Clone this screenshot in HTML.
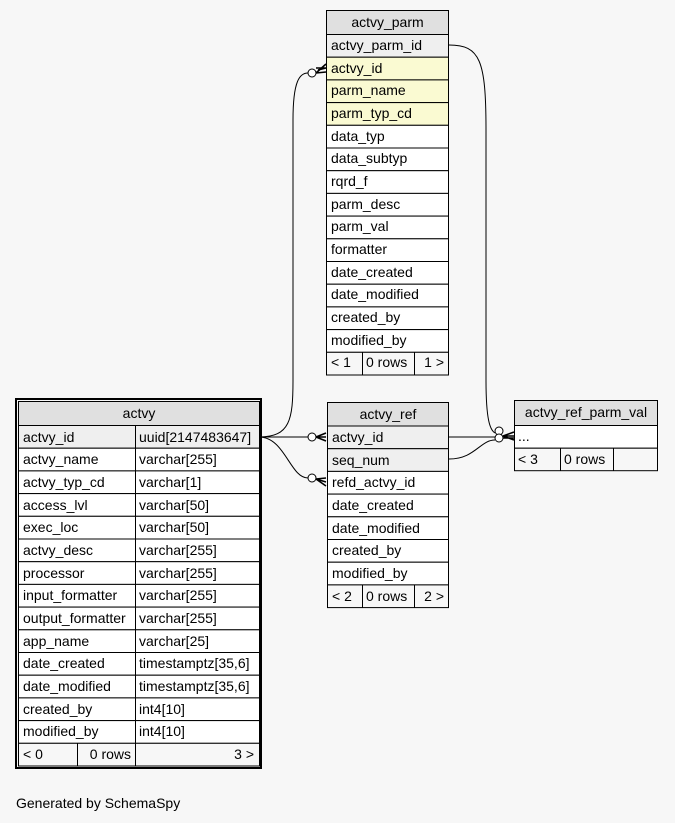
<!DOCTYPE html>
<html><head><meta charset="utf-8"><style>
html,body{margin:0;padding:0;background:#f7f7f7;}
svg{display:block;font-family:"Liberation Sans",Arial,sans-serif;font-size:14px;}
</style></head><body>
<svg width="675" height="823" viewBox="0 0 675 823" xmlns="http://www.w3.org/2000/svg">
<rect width="675" height="823" fill="#f7f7f7"/>
<g stroke="#000" stroke-width="1" fill="none">
<path d="M259,437 C290,437 293,420 293,380 L293,120 C293,80 300,73 308,73"/>
<path d="M259,437 L308,437"/>
<path d="M259,437 C285,437 290,478 308,478"/>
<path d="M449,45 C480,45 486,60 486,130 L486,380 C486,420 490,430 495,433"/>
<path d="M449,437 L495,437"/>
<path d="M449,459 C475,459 480,440 495,440"/>
</g>
<g stroke="#000" stroke-width="1" fill="#fff">
<circle cx="312" cy="73" r="4"/>
<circle cx="312" cy="437" r="4"/>
<circle cx="312" cy="478" r="4"/>
<circle cx="499" cy="431" r="4"/>
<circle cx="499" cy="438" r="4"/>
</g>
<g stroke="#000" stroke-width="1.6" fill="none">
<path d="M316,68 L326,68 M316,73 L326,64 M316,73 L326,72 M318,70 L326,68"/>
<path d="M316,437 L326,437 M316,437 L326,433 M316,437 L326,441"/>
<path d="M316,479 L326,482 M316,479 L326,478 M316,479 L326,486"/>
<path d="M503,436 L514,436 M503,436 L514,432 M503,436 L514,440 M503,438 L514,438"/>
</g>

<g stroke="#000" stroke-width="1">
<rect x="326.5" y="10.5" width="122" height="24" fill="#e0e0e0"/>
<rect x="326.5" y="34.5" width="122" height="22.7" fill="#efefef"/>
<rect x="326.5" y="57.2" width="122" height="22.7" fill="#fafad2"/>
<rect x="326.5" y="79.9" width="122" height="22.7" fill="#fafad2"/>
<rect x="326.5" y="102.6" width="122" height="22.7" fill="#fafad2"/>
<rect x="326.5" y="125.3" width="122" height="22.7" fill="#fff"/>
<rect x="326.5" y="148" width="122" height="22.7" fill="#fff"/>
<rect x="326.5" y="170.7" width="122" height="22.7" fill="#fff"/>
<rect x="326.5" y="193.4" width="122" height="22.7" fill="#fff"/>
<rect x="326.5" y="216.1" width="122" height="22.7" fill="#fff"/>
<rect x="326.5" y="238.8" width="122" height="22.7" fill="#fff"/>
<rect x="326.5" y="261.5" width="122" height="22.7" fill="#fff"/>
<rect x="326.5" y="284.2" width="122" height="22.7" fill="#fff"/>
<rect x="326.5" y="306.9" width="122" height="22.7" fill="#fff"/>
<rect x="326.5" y="329.6" width="122" height="22.7" fill="#fff"/>
<rect x="326.5" y="352.3" width="122" height="22.7" fill="#f7f7f7"/>
<line x1="362.5" y1="352.3" x2="362.5" y2="375"/>
<line x1="414.5" y1="352.3" x2="414.5" y2="375"/>
</g>
<g fill="#000">
<text x="387.5" y="27" text-anchor="middle">actvy_parm</text>
<text x="331" y="50">actvy_parm_id</text>
<text x="331" y="73">actvy_id</text>
<text x="331" y="95">parm_name</text>
<text x="331" y="118">parm_typ_cd</text>
<text x="331" y="141">data_typ</text>
<text x="331" y="163">data_subtyp</text>
<text x="331" y="186">rqrd_f</text>
<text x="331" y="209">parm_desc</text>
<text x="331" y="231">parm_val</text>
<text x="331" y="254">formatter</text>
<text x="331" y="277">date_created</text>
<text x="331" y="299">date_modified</text>
<text x="331" y="322">created_by</text>
<text x="331" y="345">modified_by</text>
<text x="331" y="367">&lt; 1</text>
<text x="366" y="367">0 rows</text>
<text x="444" y="367" text-anchor="end">1 &gt;</text>
</g>

<g stroke="#000">
<rect x="16" y="399" width="245" height="369" fill="none" stroke-width="2"/>
<g stroke-width="1">
<rect x="18.5" y="401.5" width="241" height="24" fill="#e0e0e0"/>
<rect x="18.5" y="425.5" width="241" height="22.7" fill="#efefef"/>
<rect x="18.5" y="448.2" width="241" height="22.7" fill="#fff"/>
<rect x="18.5" y="470.9" width="241" height="22.7" fill="#fff"/>
<rect x="18.5" y="493.6" width="241" height="22.7" fill="#fff"/>
<rect x="18.5" y="516.3" width="241" height="22.7" fill="#fff"/>
<rect x="18.5" y="539" width="241" height="22.7" fill="#fff"/>
<rect x="18.5" y="561.7" width="241" height="22.7" fill="#fff"/>
<rect x="18.5" y="584.4" width="241" height="22.7" fill="#fff"/>
<rect x="18.5" y="607.1" width="241" height="22.7" fill="#fff"/>
<rect x="18.5" y="629.8" width="241" height="22.7" fill="#fff"/>
<rect x="18.5" y="652.5" width="241" height="22.7" fill="#fff"/>
<rect x="18.5" y="675.2" width="241" height="22.7" fill="#fff"/>
<rect x="18.5" y="697.9" width="241" height="22.7" fill="#fff"/>
<rect x="18.5" y="720.6" width="241" height="22.7" fill="#fff"/>
<rect x="18.5" y="743.3" width="241" height="22.7" fill="#f7f7f7"/>
<line x1="135.5" y1="425.5" x2="135.5" y2="766"/>
<line x1="77.5" y1="743.3" x2="77.5" y2="766"/>
</g></g>
<g fill="#000">
<text x="139" y="418" text-anchor="middle">actvy</text>
<text x="23" y="442">actvy_id</text><text x="139" y="442">uuid[2147483647]</text>
<text x="23" y="464">actvy_name</text><text x="139" y="464">varchar[255]</text>
<text x="23" y="487">actvy_typ_cd</text><text x="139" y="487">varchar[1]</text>
<text x="23" y="510">access_lvl</text><text x="139" y="510">varchar[50]</text>
<text x="23" y="532">exec_loc</text><text x="139" y="532">varchar[50]</text>
<text x="23" y="555">actvy_desc</text><text x="139" y="555">varchar[255]</text>
<text x="23" y="578">processor</text><text x="139" y="578">varchar[255]</text>
<text x="23" y="600">input_formatter</text><text x="139" y="600">varchar[255]</text>
<text x="23" y="623">output_formatter</text><text x="139" y="623">varchar[255]</text>
<text x="23" y="646">app_name</text><text x="139" y="646">varchar[25]</text>
<text x="23" y="668">date_created</text><text x="139" y="668">timestamptz[35,6]</text>
<text x="23" y="691">date_modified</text><text x="139" y="691">timestamptz[35,6]</text>
<text x="23" y="714">created_by</text><text x="139" y="714">int4[10]</text>
<text x="23" y="736">modified_by</text><text x="139" y="736">int4[10]</text>
<text x="23" y="759">&lt; 0</text>
<text x="131" y="759" text-anchor="end">0 rows</text>
<text x="254" y="759" text-anchor="end">3 &gt;</text>
</g>

<g stroke="#000" stroke-width="1">
<rect x="327.5" y="402.5" width="121" height="23.5" fill="#e0e0e0"/>
<rect x="327.5" y="426" width="121" height="22.7" fill="#efefef"/>
<rect x="327.5" y="448.7" width="121" height="22.7" fill="#efefef"/>
<rect x="327.5" y="471.4" width="121" height="22.7" fill="#fff"/>
<rect x="327.5" y="494.1" width="121" height="22.7" fill="#fff"/>
<rect x="327.5" y="516.8" width="121" height="22.7" fill="#fff"/>
<rect x="327.5" y="539.5" width="121" height="22.7" fill="#fff"/>
<rect x="327.5" y="562.2" width="121" height="22.7" fill="#fff"/>
<rect x="327.5" y="584.9" width="121" height="22.7" fill="#f7f7f7"/>
<line x1="362.5" y1="584.9" x2="362.5" y2="607.6"/>
<line x1="414.5" y1="584.9" x2="414.5" y2="607.6"/>
</g>
<g fill="#000">
<text x="388" y="419" text-anchor="middle">actvy_ref</text>
<text x="332" y="442">actvy_id</text>
<text x="332" y="465">seq_num</text>
<text x="332" y="487">refd_actvy_id</text>
<text x="332" y="510">date_created</text>
<text x="332" y="533">date_modified</text>
<text x="332" y="555">created_by</text>
<text x="332" y="578">modified_by</text>
<text x="332" y="601">&lt; 2</text>
<text x="366" y="601">0 rows</text>
<text x="444" y="601" text-anchor="end">2 &gt;</text>
</g>

<g stroke="#000" stroke-width="1">
<rect x="514.5" y="400.5" width="143" height="25" fill="#e0e0e0"/>
<rect x="514.5" y="425.5" width="143" height="22.7" fill="#fff"/>
<rect x="514.5" y="448.2" width="143" height="22.5" fill="#f7f7f7"/>
<line x1="560.5" y1="448.2" x2="560.5" y2="470.7"/>
<line x1="613.5" y1="448.2" x2="613.5" y2="470.7"/>
</g>
<g fill="#000">
<text x="586" y="417" text-anchor="middle">actvy_ref_parm_val</text>
<text x="518" y="441">...</text>
<text x="518" y="464">&lt; 3</text>
<text x="564" y="464">0 rows</text>
</g>

<text x="16" y="808" fill="#000">Generated by SchemaSpy</text>
</svg>
</body></html>
